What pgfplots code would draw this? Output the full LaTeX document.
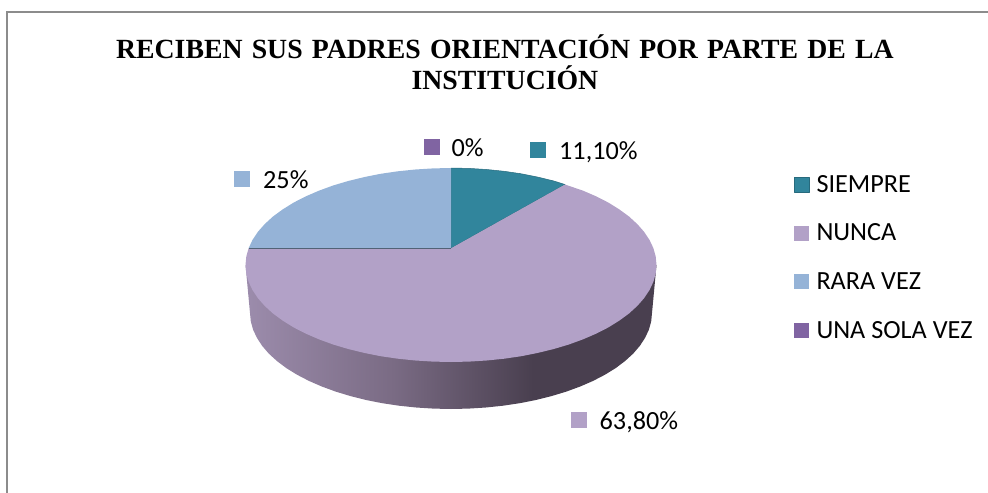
\documentclass[border=0pt]{standalone}
\usepackage{pgfplots}
\pgfplotsset{compat=1.18}
\usepackage{fontspec}
\setmainfont{Carlito}
\newfontfamily\titlefont{Liberation Serif}
\definecolor{siempre}{HTML}{31859C}
\definecolor{nunca}{HTML}{B2A1C7}
\definecolor{rara}{HTML}{95B3D7}
\definecolor{unasola}{HTML}{8064A2}
\definecolor{framegray}{HTML}{8C8C8C}
\definecolor{sideA}{HTML}{9C8CAC}
\definecolor{sideB}{HTML}{7A6B84}
\definecolor{sideC}{HTML}{493F4F}
\pgfdeclarehorizontalshading{pieside}{100bp}{
  color(0bp)=(sideA); color(25bp)=(sideA); color(43bp)=(sideB);
  color(60bp)=(sideC); color(75bp)=(sideC); color(100bp)=(sideC)}
\newcommand{\lbl}{\fontsize{26.2bp}{29bp}\selectfont}
\begin{document}
\begin{tikzpicture}[x=1bp,y=1bp]
\path[use as bounding box] (0bp,0bp) rectangle (988bp,493bp);
\begin{axis}[
  at={(0bp,0bp)},anchor=south west,
  scale only axis, width=988bp, height=493bp,
  xmin=0, xmax=988, ymin=0, ymax=493, y dir=reverse,
  hide axis,
  title={RECIBEN SUS PADRES ORIENTACIÓN POR PARTE DE LA\\INSTITUCIÓN},
  title style={at={(0.5111,0.8045)},anchor=south,align=center,inner sep=0pt,text width=900bp,
    font={\titlefont\bfseries\fontsize{27.75bp}{31.5bp}\selectfont}},
  legend cell align=left,
  legend style={at={(0.80364,0.645)},anchor=north west,draw=none,fill=none,inner sep=0pt,outer sep=0pt,
    row sep=30.3bp,font=\lbl,
    nodes={inner sep=0pt,outer sep=0pt},
    /tikz/every odd column/.append style={column sep=7bp}},
  legend image code/.code={\fill[#1] (0bp,-7.5bp) rectangle (15bp,7.5bp);},
]
% frame
\addplot[forget plot,framegray,line width=2bp] coordinates {(7,493)(7,12.5)(988,12.5)};
% side wall
\addplot[forget plot,shading=pieside,draw=none] coordinates {
(656.5,265)(652,313)(651.2,321.4)(648.9,329.7)(645.1,337.8)(639.9,345.8)(633.2,353.6)(625.1,361)(615.7,368.1)(605,374.7)(593.1,380.9)(580.2,386.5)(566.3,391.6)(551.5,396.1)(535.9,400)(519.7,403.2)(503,405.7)(485.9,407.5)(468.5,408.6)(451,409)(433.5,408.6)(416.1,407.5)(399,405.7)(382.3,403.2)(366.1,400)(350.5,396.1)(335.7,391.6)(321.8,386.5)(308.9,380.9)(297,374.7)(286.3,368.1)(276.9,361)(268.8,353.6)(262.1,345.8)(256.9,337.8)(253.1,329.7)(250.8,321.4)(250,313)(245.5,265)
} -- cycle;
% SIEMPRE 11,10 %
\addplot[siempre,fill=siempre,draw=siempre!80!black,line width=0.5bp,line join=round] coordinates {
(451,248.3)(451,168)(468.9,168.4)(486.7,169.5)(504.2,171.3)(521.3,173.8)(537.8,177.1)(553.8,181)(565,184.5)
} -- cycle;
\addlegendentry{SIEMPRE}
% NUNCA 63,80 %
\addplot[nunca,fill=nunca,draw=none] coordinates {
(451,248.3)(565,184.5)(583.1,190.7)(596.3,196.4)(608.4,202.6)(619.3,209.4)(629,216.5)(637.2,224)(644.1,231.8)(649.5,239.9)(653.4,248.2)(655.7,256.5)(656.5,265)(655.7,273.5)(653.4,281.8)(649.5,290.1)(644.1,298.2)(637.2,306)(629,313.5)(619.3,320.6)(608.4,327.4)(596.3,333.6)(583.1,339.3)(568.9,344.5)(553.8,349)(537.8,352.9)(521.3,356.2)(504.2,358.7)(486.7,360.5)(468.9,361.6)(451,362)(433.1,361.6)(415.3,360.5)(397.8,358.7)(380.7,356.2)(364.2,352.9)(348.2,349)(333.1,344.5)(318.9,339.3)(305.7,333.6)(293.6,327.4)(282.7,320.6)(273,313.5)(264.8,306)(257.9,298.2)(252.5,290.1)(248.6,281.8)(246.3,273.5)(245.5,265)(246.3,256.5)(248.6,248.3)
} -- cycle;
\addlegendentry{NUNCA}
% RARA VEZ 25 %
\addplot[rara,fill=rara,draw=none] coordinates {
(451,248.3)(248.6,248.3)(252.5,239.9)(257.9,231.8)(264.8,224)(273,216.5)(282.7,209.4)(293.6,202.6)(305.7,196.4)(318.9,190.7)(333.1,185.5)(348.2,181)(364.2,177.1)(380.7,173.8)(397.8,171.3)(415.3,169.5)(433.1,168.4)(451,168)
} -- cycle;
\addlegendentry{RARA VEZ}
% UNA SOLA VEZ 0 %
\addplot[unasola,fill=unasola,draw=none] coordinates {(451,248.3)(451,248.3)} -- cycle;
\addlegendentry{UNA SOLA VEZ}
% edge of the slices
\addplot[forget plot,color=rara!55!black,line width=0.5bp] coordinates {(248.6,248.3)(451,248.3)};
% data label keys
\addplot[forget plot,only marks,mark=square*,mark size=7.5bp,mark options={draw=siempre,line width=0pt,fill=siempre}] coordinates {(537.5,150)};
\addplot[forget plot,only marks,mark=square*,mark size=7.5bp,mark options={draw=nunca,line width=0pt,fill=nunca}] coordinates {(578.5,420)};
\addplot[forget plot,only marks,mark=square*,mark size=7.5bp,mark options={draw=rara,line width=0pt,fill=rara}] coordinates {(241.5,178.5)};
\addplot[forget plot,only marks,mark=square*,mark size=7.5bp,mark options={draw=unasola,line width=0pt,fill=unasola}] coordinates {(431.5,146.5)};
\node[anchor=base west,inner sep=0pt,font=\lbl] at (axis cs:559,159.5) {11,10\%};
\node[anchor=base west,inner sep=0pt,font=\lbl] at (axis cs:599.5,429.5) {63,80\%};
\node[anchor=base west,inner sep=0pt,font=\lbl] at (axis cs:263,188) {25\%};
\node[anchor=base west,inner sep=0pt,font=\lbl] at (axis cs:451.5,156) {0\%};
\end{axis}
\end{tikzpicture}
\end{document}
